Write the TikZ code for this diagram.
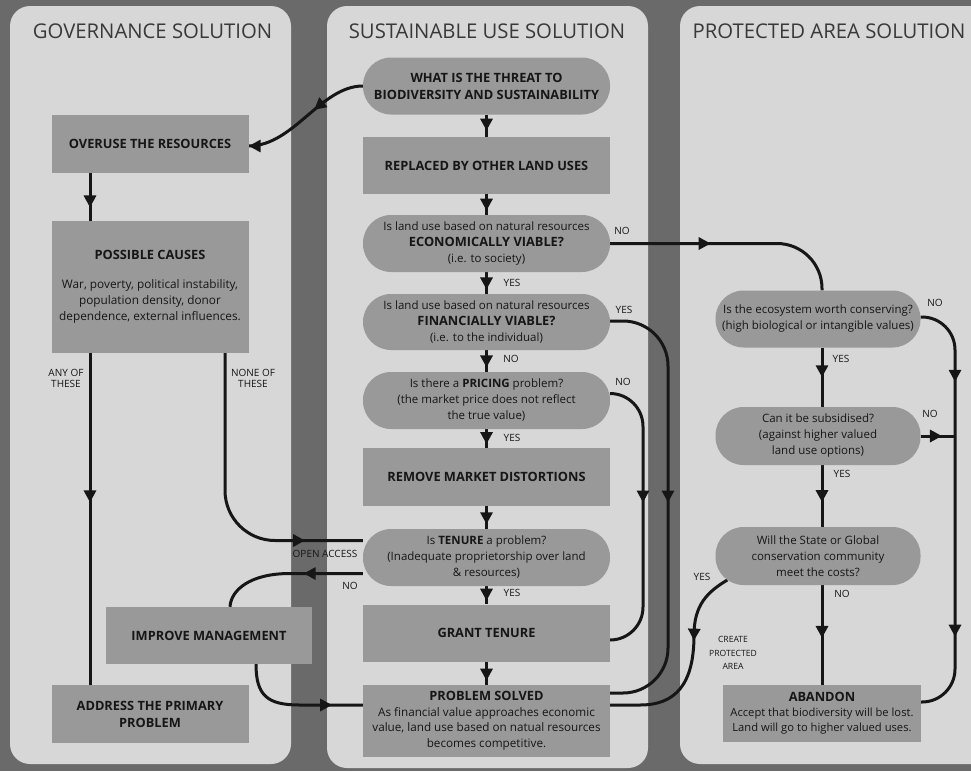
\documentclass[tikz,border=0pt]{standalone}
\usepackage{fontspec}
\setmainfont{Open Sans}
\usetikzlibrary{arrows.meta,decorations.markings,calc}

\definecolor{bgdark}{HTML}{6A6A6A}
\definecolor{panelfill}{HTML}{D7D7D7}
\definecolor{boxfill}{HTML}{999999}
\definecolor{ink}{HTML}{161616}

\pgfdeclarelayer{panels}
\pgfdeclarelayer{wires}
\pgfsetlayers{panels,wires,main}

\tikzset{
  box/.style={fill=boxfill, inner sep=0pt, align=center, text=ink},
  sbox/.style={box, minimum width=197pt, minimum height=58pt},
  mbox/.style={box, minimum width=247pt, minimum height=57pt},
  pill/.style={box, rounded corners=28pt, minimum width=247pt, minimum height=57pt},
  rpill/.style={box, rounded corners=28pt, minimum width=205pt, minimum height=57pt},
  ttl/.style={font=\fontsize{20.3}{22}\selectfont, text=ink!85},
  hd/.style={font=\bfseries\fontsize{12.8}{17}\selectfont},
  bd/.style={font=\fontsize{11.5}{16}\selectfont},
  lbl/.style={font=\fontsize{10}{11}\selectfont, text=ink, align=center, inner sep=0pt},
  wire/.style={draw=ink, line width=3pt},
  tip/.tip={Triangle[length=12pt,width=12pt]},
  marr/.style={postaction={decorate}, decoration={markings, mark=at position #1 with {\arrow{tip}}}},
  marrr/.style 2 args={postaction={decorate}, decoration={markings, mark=at position #1 with {\arrow{tip}}, mark=at position #2 with {\arrow{tip}}}},
}

\begin{document}
\begin{tikzpicture}[x=1pt,y=-1pt]
\useasboundingbox (0,0) rectangle (971,771);

% ---------- nodes: left column
\node[sbox, hd] (overuse) at (150,144) {OVERUSE THE RESOURCES};
\node[sbox, minimum height=132pt, font=\fontsize{11.8}{16}\selectfont] (causes) at (150,287)
  {{\bfseries\fontsize{12.8}{17}\selectfont POSSIBLE CAUSES}\\[13pt]
   War, poverty, political instability,\\ population density, donor\\ dependence, external influences.};
\node[box, hd, minimum width=206pt, minimum height=57pt] (improve) at (209,635.5) {IMPROVE MANAGEMENT};
\node[sbox, hd] (address) at (150,714) {ADDRESS THE PRIMARY\\PROBLEM};

% ---------- middle column
\node[pill, hd] (what) at (486.5,86) {WHAT IS THE THREAT TO\\BIODIVERSITY AND SUSTAINABILITY};
\node[mbox, hd] (replaced) at (486.5,165.5) {REPLACED BY OTHER LAND USES};
\node[pill, bd] (econ) at (486.5,243.5) {Is land use based on natural resources\\{\bfseries\fontsize{12.8}{16}\selectfont ECONOMICALLY VIABLE?}\\(i.e. to society)};
\node[pill, bd, minimum height=56pt] (fin) at (486.5,322) {Is land use based on natural resources\\{\bfseries\fontsize{12.8}{16}\selectfont FINANCIALLY VIABLE?}\\(i.e. to the individual)};
\node[pill, bd] (pricing) at (486.5,400.5) {Is there a {\bfseries PRICING} problem?\\(the market price does not reflect\\the true value)};
\node[mbox, hd, minimum height=58pt] (remove) at (486.5,477) {REMOVE MARKET DISTORTIONS};
\node[pill, bd] (tenure) at (486.5,557.5) {Is {\bfseries TENURE} a problem?\\(Inadequate proprietorship over land\\\& resources)};
\node[mbox, hd] (grant) at (486.5,633) {GRANT TENURE};
\node[mbox, minimum height=72pt, font=\fontsize{11.7}{15.5}\selectfont] (solved) at (486.5,721)
  {{\bfseries\fontsize{12.8}{15.5}\selectfont PROBLEM SOLVED}\\As financial value approaches economic\\value, land use based on natual resources\\becomes competitive.};

% ---------- right column
\node[rpill, bd] (eco) at (818,319) {Is the ecosystem worth conserving?\\(high biological or intangible values)};
\node[rpill, bd, minimum height=58pt] (sub) at (818,436) {Can it be subsidised?\\(against higher valued\\land use options)};
\node[rpill, bd, minimum height=58pt] (will) at (818,556) {Will the State or Global\\conservation community\\meet the costs?};
\node[box, minimum width=198pt, minimum height=57pt, font=\fontsize{11.2}{15}\selectfont] (abandon) at (822,713.5)
  {{\bfseries\fontsize{12.8}{15}\selectfont ABANDON}\\Accept that biodiversity will be lost.\\Land will go to higher valued uses.};

% ---------- titles
\node[ttl] (t1) at (152.5,31.5) {GOVERNANCE SOLUTION};
\node[ttl] (t2) at (487,31.5) {SUSTAINABLE USE SOLUTION};
\node[ttl] (t3) at (829,31.5) {PROTECTED AREA SOLUTION};

% ---------- labels
\node[lbl] (l1) at (66,378.5) {ANY OF\\THESE};
\node[lbl] (l2) at (253,378.5) {NONE OF\\THESE};
\node[lbl] (l3) at (325,554) {OPEN ACCESS};
\node[lbl] (l4) at (350,586) {NO};
\node[lbl] (l5) at (622,231) {NO};
\node[lbl] (l6) at (512,283) {YES};
\node[lbl] (l7) at (624,310) {YES};
\node[lbl] (l8) at (511,359) {NO};
\node[lbl] (l9) at (623,382) {NO};
\node[lbl] (l10) at (512,438) {YES};
\node[lbl] (l11) at (512,593) {YES};
\node[lbl] (l12) at (935,303) {NO};
\node[lbl] (l13) at (841,359) {YES};
\node[lbl] (l14) at (930,414) {NO};
\node[lbl] (l15) at (842,474) {YES};
\node[lbl] (l16) at (702,577) {YES};
\node[lbl] (l17) at (842,594) {NO};
\node[lbl, font=\fontsize{8.6}{13.5}\selectfont] (l18) at (733,653) {CREATE\\PROTECTED\\AREA};

\coordinate (subj) at (955,436);

% ---------- panels
\begin{pgfonlayer}{panels}
\fill[bgdark] (0,0) rectangle (971,771);
\fill[panelfill, rounded corners=20pt] (10,6) rectangle (291,764);
\fill[panelfill, rounded corners=20pt] (327,6) rectangle (648,768);
\fill[panelfill, rounded corners=20pt] (971,6) -- (680,6) -- (680,764) -- (971,764);
\end{pgfonlayer}

% ---------- connectors
\begin{pgfonlayer}{wires}
% left
\draw[wire, marrr={0.42}{1}] (what.west) .. controls +(-42,0) and +(45,0) .. ([yshift=-2pt]overuse.east);
\draw[wire, marr=0.72] ([xshift=-60pt]overuse.south) -- ([xshift=-60pt]causes.north);
\draw[wire, marr=0.45] ([xshift=-60pt]causes.south) -- ([xshift=-60pt]address.north);
\draw[wire, rounded corners=50pt, marr=0.81] ([xshift=75pt]causes.south) |- ([yshift=17pt]tenure.west);
\draw[wire, marr=0.4] ([yshift=-16pt]tenure.west) -- (290,573.5) .. controls (250,573.5) and (231,590) .. ([xshift=21pt]improve.north);
\draw[wire, marr=0.77] ([xshift=47pt]improve.south) .. controls +(0,32) and +(-32,0) .. (300,705) -- ([yshift=16pt]solved.west);
% middle stack
\draw[wire, marr=0.72] (what.south) -- (replaced.north);
\draw[wire, marr=0.8] (replaced.south) -- (econ.north);
\draw[wire, marr=0.8] (econ.south) -- (fin.north);
\draw[wire, marr=0.8] (fin.south) -- (pricing.north);
\draw[wire, marr=0.8] (pricing.south) -- (remove.north);
\draw[wire, marr=0.8] (remove.south) -- (tenure.north);
\draw[wire, marr=0.8] (tenure.south) -- (grant.north);
\draw[wire, marr=0.82] (grant.south) -- (solved.north);
% middle right
\draw[wire, rounded corners=45pt, marr=0.42] (econ.east) -| ([xshift=4pt]eco.north);
\draw[wire, rounded corners=45pt, marr=0.49] ([yshift=1pt]fin.east) -- (668,321) -- (668,693) -- ([yshift=28pt]solved.east);
\draw[wire, rounded corners=33pt, marr=0.45] ([yshift=7pt]pricing.east) -- (643,393.5) -- (643,640) -- ([yshift=-7pt]grant.east);
% right column
\draw[wire, marr=0.5] ([xshift=4pt]eco.south) -- ([xshift=4pt]sub.north);
\draw[wire, marr=0.6] ([xshift=4pt]sub.south) -- ([xshift=4pt]will.north);
\draw[wire, marr=0.53] ([xshift=4pt]will.south) -- (abandon.north);
\draw[wire, rounded corners=33pt, marrr={0.2}{0.8}] ([yshift=2pt]eco.east) -- (955,317) -- (955,702) -- ([yshift=11.5pt]abandon.east);
\draw[wire, marr=0.62] (sub.east) -- (subj);
\draw[wire, marr=0.37] ([xshift=12pt,yshift=-24pt]will.west) .. controls +(-20,12) and (694,605) .. (694,635) .. controls (694,685) and (675,705) .. (640,705) -- ([yshift=16pt]solved.east);
\end{pgfonlayer}
\end{tikzpicture}
\end{document}
